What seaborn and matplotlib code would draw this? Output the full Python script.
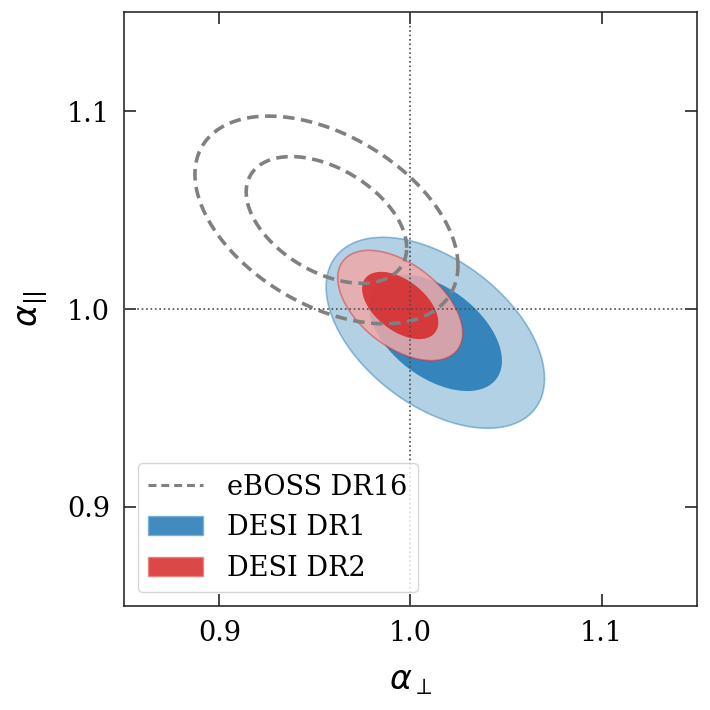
import numpy as np
import matplotlib
matplotlib.use("Agg")
import matplotlib.pyplot as plt
import seaborn as sns
import pandas as pd
from matplotlib.patches import Patch
from matplotlib.lines import Line2D

# ---- data ----
datasets = ["eBOSS DR16", "DESI DR1", "DESI DR2"]
mean_perp = [0.956, 1.013, 0.9946]
mean_par = [1.045, 0.988, 1.0018]
sigma_perp = [0.0277, 0.0230, 0.01315]
sigma_par = [0.0211, 0.0194, 0.0112]
corr = [-0.44, -0.48, -0.50]
dchi2_levels = [2.30, 6.18]          # 68% and 95% 2D contours
tick_values = [0.9, 1.0, 1.1]
tick_labels = ["0.9", "1.0", "1.1"]
axis_limits = (0.85, 1.15)

sns.set_theme(style="ticks")
plt.rcParams["font.family"] = ["DejaVu Serif", "DejaVu Sans"]
plt.rcParams["mathtext.fontset"] = "dejavusans"
plt.rcParams["text.color"] = "black"
plt.rcParams["axes.labelcolor"] = "black"
plt.rcParams["xtick.color"] = "black"
plt.rcParams["ytick.color"] = "black"

fig = plt.figure(figsize=(7.1, 7.1), dpi=100)
ax = fig.add_axes([0.1746, 0.1465, 0.8071, 0.8365])


def ellipse_curve(i, dchi2, n=400):
    cov = np.array([[sigma_perp[i] ** 2, corr[i] * sigma_perp[i] * sigma_par[i]],
                    [corr[i] * sigma_perp[i] * sigma_par[i], sigma_par[i] ** 2]])
    L = np.linalg.cholesky(cov)
    t = np.linspace(0, 2 * np.pi, n)
    circ = np.vstack([np.cos(t), np.sin(t)]) * np.sqrt(dchi2)
    pts = L @ circ
    return mean_perp[i] + pts[0], mean_par[i] + pts[1]


def lighten(c, f=0.4):
    c = np.array(matplotlib.colors.to_rgb(c))
    return tuple(f * c + (1 - f) * np.ones(3))


fill_colors = {"DESI DR1": "tab:blue", "DESI DR2": "tab:red"}

for name in ["DESI DR1", "DESI DR2"]:
    i = datasets.index(name)
    col = fill_colors[name]
    xo, yo = ellipse_curve(i, dchi2_levels[1])
    ax.fill(xo, yo, facecolor=lighten(col), alpha=0.85, lw=0, zorder=2)
    ax.plot(xo, yo, color=col, alpha=0.45, lw=1.2, zorder=2)
    xi, yi = ellipse_curve(i, dchi2_levels[0])
    ax.fill(xi, yi, facecolor=col, alpha=0.85, lw=0, zorder=2)

# eBOSS dashed contours through seaborn
i = datasets.index("eBOSS DR16")
for lev in dchi2_levels:
    xe, ye = ellipse_curve(i, lev)
    df = pd.DataFrame({"x": xe, "y": ye})
    sns.lineplot(data=df, x="x", y="y", sort=False, estimator=None, ax=ax,
                 color="gray", lw=2.6, ls=(0, (3.2, 1.8)), zorder=3)

ax.axvline(1.0, color="0.3", ls=":", lw=1.2, zorder=4)
ax.axhline(1.0, color="0.3", ls=":", lw=1.2, zorder=4)

ax.set_xlim(*axis_limits)
ax.set_ylim(*axis_limits)
ax.set_xticks(tick_values)
ax.set_xticklabels(tick_labels)
ax.set_yticks(tick_values)
ax.set_yticklabels(tick_labels)
ax.tick_params(direction="in", length=8.5, width=1.2, top=True, right=True,
               labelsize=19.5, pad=10, color="0.15")
for s in ax.spines.values():
    s.set_linewidth(1.1)
    s.set_color("0.1")

ax.set_xlabel(r"$\alpha_\perp$", fontsize=24, labelpad=13)
ax.set_ylabel(r"$\alpha_{||}$", fontsize=24, labelpad=12)

handles = [
    Line2D([], [], color="gray", lw=2.2, ls=(0, (2.6, 1.6))),
    Patch(facecolor="tab:blue", alpha=0.85, edgecolor=lighten("tab:blue", 0.6)),
    Patch(facecolor="tab:red", alpha=0.85, edgecolor=lighten("tab:red", 0.6)),
]
ax.legend(handles, datasets, loc="lower left", fontsize=19.5, frameon=True,
          handlelength=2.0, handletextpad=0.9)

fig.savefig("out.png", dpi=100)
